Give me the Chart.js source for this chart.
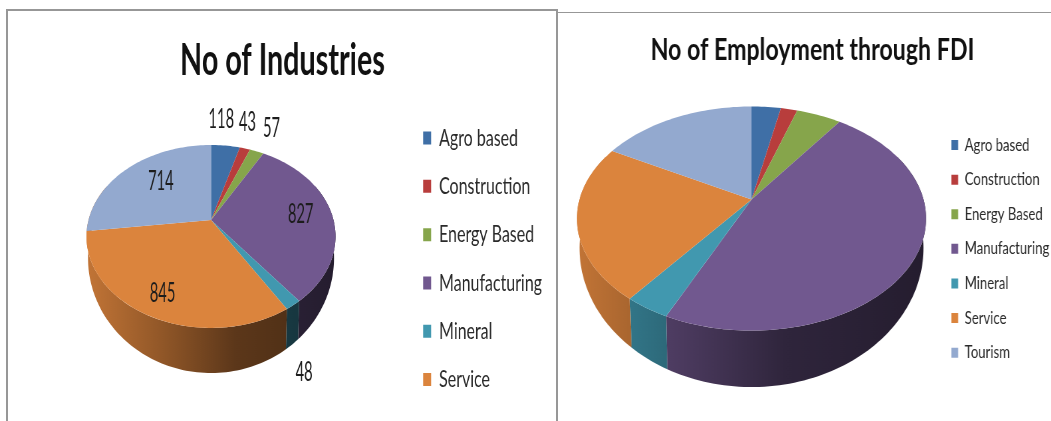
<!DOCTYPE html>
<html>
<head>
<meta charset="utf-8">
<title>FDI charts</title>
<script src="https://cdn.jsdelivr.net/npm/chart.js@4"></script>
<style>
  html, body { margin: 0; padding: 0; background: #fff; }
  body { position: relative; width: 1051px; height: 421px; overflow: hidden; }
  .marco { position: absolute; box-sizing: border-box; border: 2px solid #979797; border-bottom: 0; }
  #marco-izq { left: 6px; top: 9px; width: 552px; height: 412px; }
  #marco-der { left: 558px; top: 12px; width: 493px; height: 409px; border-width: 1.5px 0 0 0; }
  canvas { position: absolute; top: 0; transform-origin: 0 0; }
  #chart-industrias { left: 0; }
  #chart-empleo { left: 558px; }
</style>
</head>
<body>
<div class="marco" id="marco-izq"></div>
<div class="marco" id="marco-der"></div>
<canvas id="chart-industrias" height="421"></canvas>
<canvas id="chart-empleo" height="421"></canvas>
<script>
var FUENTE = 'Lato, "Liberation Sans", sans-serif';

// ── DATOS ─────────────────────────────────────────────────────────────────────
var sectores = ['Agro based', 'Construction', 'Energy Based', 'Manufacturing', 'Mineral', 'Service', 'Tourism'];
var industrias = [118, 43, 57, 827, 48, 845, 714];
var empleo = [3.2, 1.8, 4.9, 47, 3.6, 22.5, 17];
var colores = ['#3f6fa6', '#b83d3c', '#86a54b', '#71588f', '#4198af', '#db843d', '#93a9cf'];

// desplazamiento de cada etiqueta desde su punto medio en la cara del pastel
var ajusteEtiquetas = [[-1, -42], [10, -42], [25, -38], [-1, 0], [34, 91], [-3, 6], [13, 2]];

// ── HELPERS ───────────────────────────────────────────────────────────────────
function oscurecer(hex, f) {
  var n = parseInt(hex.slice(1), 16);
  return 'rgb(' + Math.round((n >> 16) * f) + ',' + Math.round(((n >> 8) & 255) * f) + ',' + Math.round((n & 255) * f) + ')';
}

// punto del disco (r, angulo de Chart.js) proyectado con perspectiva
function proyectar(g, r, ang) {
  var X = r * Math.cos(ang), Y = r * Math.sin(ang);
  var w = 1 - g.k * Y;
  return { x: g.cx + g.rx * X / w, y: g.cy + g.ry * Y / w };
}

function trazarBorde(ctx, g, a0, a1, inverso) {
  var pasos = Math.max(2, Math.ceil(Math.abs(a1 - a0) * 40));
  for (var i = 0; i <= pasos; i++) {
    var t = inverso ? a1 - (a1 - a0) * i / pasos : a0 + (a1 - a0) * i / pasos;
    var p = proyectar(g, 1, t);
    ctx.lineTo(p.x, p.y);
  }
}

// ── PASTEL 3D ─────────────────────────────────────────────────────────────────
var pastel3d = {
  id: 'pastel3d',
  beforeDatasetsDraw: function(chart, args, opts) {
    var ctx = chart.ctx;
    var arcos = chart.getDatasetMeta(0).data;
    var cara = opts.cara, base = opts.base;
    var cols = chart.data.datasets[0].backgroundColor;
    // la pared solo se ve entre los dos puntos de silueta del disco
    var silDer = Math.asin(cara.k), silIzq = Math.PI - silDer;

    ctx.save();
    arcos.forEach(function(arco, i) {
      if (arco.endAngle <= silDer || arco.startAngle >= silIzq) return;
      var a0 = arco.startAngle < silDer ? silDer - 0.6 : arco.startAngle;
      var a1 = arco.endAngle > silIzq ? silIzq + 0.6 : arco.endAngle;
      var grad = ctx.createLinearGradient(cara.cx - cara.rx, 0, cara.cx + cara.rx, 0);
      grad.addColorStop(0, oscurecer(cols[i], 0.88));
      grad.addColorStop(0.3, oscurecer(cols[i], 0.66));
      grad.addColorStop(0.6, oscurecer(cols[i], 0.42));
      grad.addColorStop(1, oscurecer(cols[i], 0.33));
      ctx.beginPath();
      trazarBorde(ctx, cara, a0, a1, false);
      trazarBorde(ctx, base, a0, a1, true);
      ctx.closePath();
      ctx.fillStyle = grad;
      ctx.fill();
    });
    arcos.forEach(function(arco, i) {
      ctx.beginPath();
      ctx.moveTo(cara.cx, cara.cy);
      trazarBorde(ctx, cara, arco.startAngle, arco.endAngle, false);
      ctx.closePath();
      ctx.fillStyle = cols[i];
      ctx.fill();
    });
    ctx.restore();
  },
  beforeDatasetDraw: function() { return false; },
  afterDatasetsDraw: function(chart, args, opts) {
    if (!opts.ajustes) return;
    var ctx = chart.ctx;
    var arcos = chart.getDatasetMeta(0).data;
    var valores = chart.data.datasets[0].data;
    ctx.font = opts.fuenteEtiqueta;
    ctx.fillStyle = '#1c1c1c';
    ctx.textAlign = 'center';
    ctx.textBaseline = 'middle';
    arcos.forEach(function(arco, i) {
      var p = proyectar(opts.cara, 0.75, (arco.startAngle + arco.endAngle) / 2);
      ctx.save();
      ctx.translate(p.x + opts.ajustes[i][0] / opts.ancho, p.y + opts.ajustes[i][1]);
      ctx.scale(0.85, 1); // digitos algo mas estrechos
      ctx.fillText(String(valores[i]), 0, 0);
      ctx.restore();
    });
  }
};

// cara/base vienen en pixeles de pagina, se pasan a unidades del lienzo
function aLienzo(g, origen, ancho) {
  return { cx: (g.cx - origen) / ancho, cy: g.cy, rx: g.rx / ancho, ry: g.ry, k: g.k };
}

function crearPastel(id, cfg) {
  var canvas = document.getElementById(id);
  canvas.width = cfg.anchoLienzo;
  canvas.style.transform = 'scaleX(' + cfg.ancho + ')';
  return new Chart(canvas.getContext('2d'), {
    type: 'pie',
    data: {
      labels: sectores,
      datasets: [{ data: cfg.valores, backgroundColor: colores, borderWidth: 0 }]
    },
    options: {
      responsive: false,
      animation: false,
      layout: { padding: { left: cfg.margenIzq, right: 0, top: 0, bottom: 0 } },
      plugins: {
        title: {
          display: true,
          text: cfg.titulo,
          color: '#111',
          font: { family: FUENTE, size: cfg.tamTitulo, weight: 'bold' },
          padding: cfg.paddingTitulo
        },
        legend: {
          position: 'right',
          align: 'start',
          fullSize: false,
          labels: {
            boxWidth: cfg.caja,
            boxHeight: cfg.cajaAlto,
            color: '#2a2a2a',
            padding: cfg.paddingLeyenda,
            font: { family: FUENTE, size: cfg.tamLeyenda },
            filter: function(item) { return item.index < cfg.enLeyenda; }
          }
        },
        tooltip: { enabled: false },
        pastel3d: {
          ancho: cfg.ancho,
          cara: aLienzo(cfg.cara, cfg.origen, cfg.ancho),
          base: aLienzo(cfg.base, cfg.origen, cfg.ancho),
          ajustes: cfg.ajustes,
          fuenteEtiqueta: cfg.fuenteEtiqueta
        }
      }
    },
    plugins: [pastel3d]
  });
}

// ── INIT ──────────────────────────────────────────────────────────────────────
crearPastel('chart-industrias', {
  titulo: 'No of Industries',
  valores: industrias,
  enLeyenda: 6,
  origen: 0,
  ancho: 0.665,
  anchoLienzo: 825,
  margenIzq: 24.6,
  tamTitulo: 43.2,
  paddingTitulo: { top: 35.1, bottom: 14.8 },
  tamLeyenda: 24,
  paddingLeyenda: 24.3,
  caja: 12,
  cajaAlto: 13,
  cara: { cx: 211, cy: 220, rx: 122.5, ry: 88.5, k: 0.18 },
  base: { cx: 211, cy: 237.3, rx: 121, ry: 111.3, k: 0.18 },
  ajustes: ajusteEtiquetas,
  fuenteEtiqueta: '26px ' + FUENTE
});

crearPastel('chart-empleo', {
  titulo: 'No of Employment through FDI',
  valores: empleo,
  enLeyenda: 7,
  origen: 558,
  ancho: 0.75,
  anchoLienzo: 665,
  margenIzq: 13.6,
  tamTitulo: 30.9,
  paddingTitulo: { top: 31.5, bottom: 50.6 },
  tamLeyenda: 17.5,
  paddingLeyenda: 17.1,
  caja: 9,
  cajaAlto: 10,
  cara: { cx: 751.5, cy: 199.5, rx: 172, ry: 108.8, k: 0.17 },
  base: { cx: 751.5, cy: 224.4, rx: 169.5, ry: 135, k: 0.17 }
});
</script>
</body>
</html>
